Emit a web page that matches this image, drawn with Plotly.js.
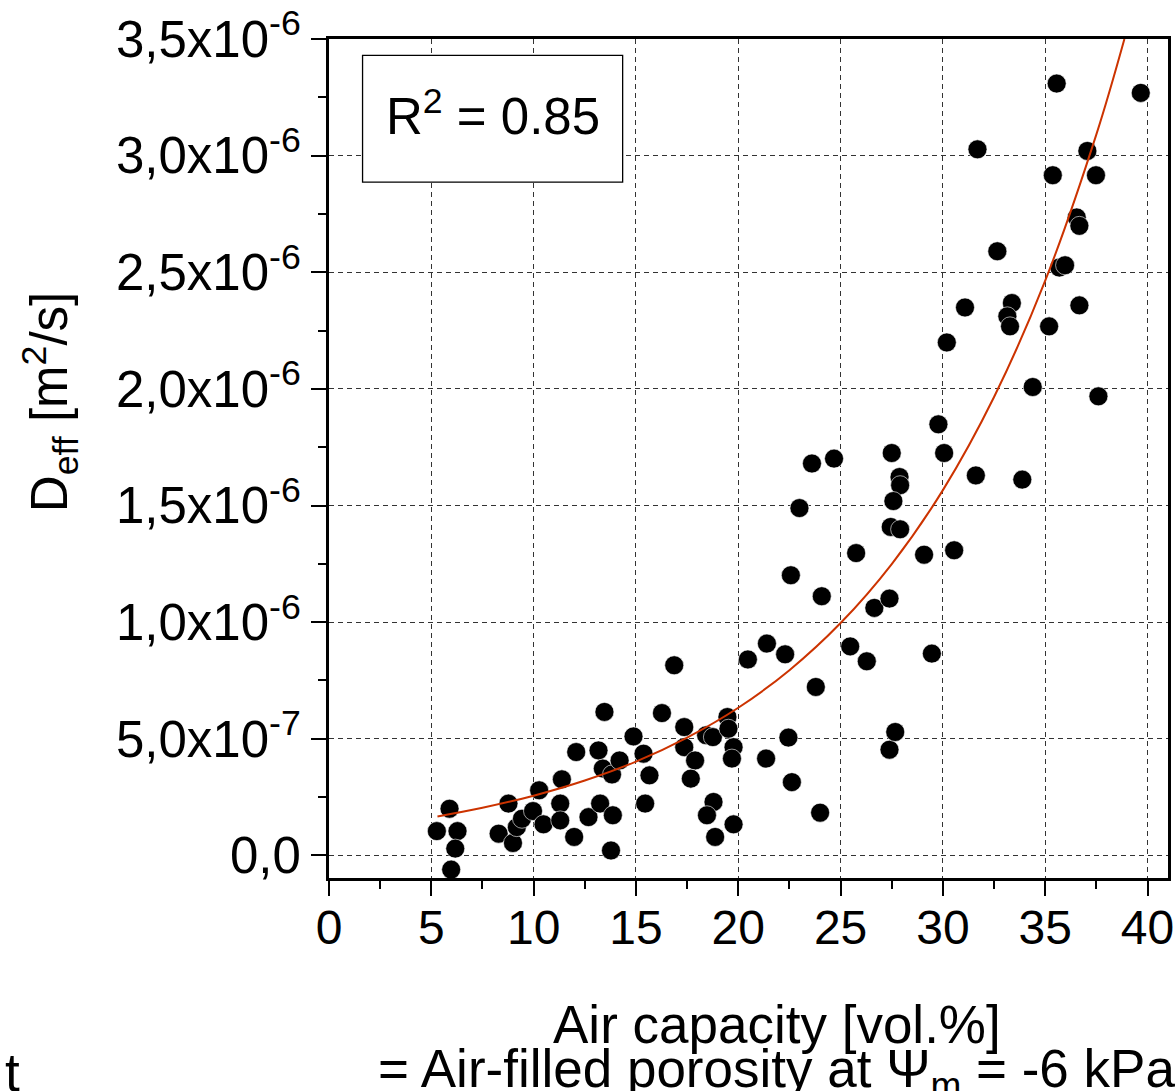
<!DOCTYPE html>
<html>
<head>
<meta charset="utf-8">
<script src="https://cdn.plot.ly/plotly-3.0.1.min.js"></script>
<style>
  html, body { margin: 0; padding: 0; background: #ffffff; }
  #chart { width: 1176px; height: 1091px; }
</style>
</head>
<body>
<div id="chart"></div>
<script>
// Measured points: air capacity [vol.%] vs D_eff [m^2/s]
const airCapacity = [
  5.27, 5.89, 6.28, 6.17, 5.97,
  8.29, 8.77, 8.99, 9.18, 9.43, 9.97, 10.48, 10.27,
  11.30, 11.30, 11.38, 11.98, 12.08, 12.68,
  13.17, 13.25, 13.38, 13.46, 13.83, 13.87, 13.78, 14.20,
  14.88, 15.37, 15.66, 15.45,
  16.27, 16.87,
  17.36, 17.36, 17.89, 17.68,
  18.43, 18.76, 19.47, 19.52, 19.77, 19.69,
  18.79, 18.47, 18.87, 19.77,
  20.47, 21.40, 22.29, 21.36, 22.45, 22.62, 24.00,
  23.79, 22.99, 22.57, 24.08, 23.60, 24.68,
  25.47, 26.28, 25.76, 26.65, 27.39,
  27.39, 27.67,
  27.50, 27.88, 27.91, 27.58, 27.45, 27.91,
  29.08, 29.46, 30.55, 30.06, 29.78, 30.19, 31.08, 31.69, 31.61,
  32.66, 33.37, 33.15, 33.28, 33.88, 34.39,
  35.19, 35.37, 35.56, 35.69, 35.97, 36.54, 36.67, 36.67, 37.06, 37.48, 37.60, 39.67
];
const deff = [
  0.104e-6, 0.200e-6, 0.104e-6, 0.029e-6, -0.061e-6,
  0.093e-6, 0.222e-6, 0.053e-6, 0.121e-6, 0.157e-6, 0.190e-6, 0.133e-6, 0.279e-6,
  0.222e-6, 0.150e-6, 0.326e-6, 0.079e-6, 0.443e-6, 0.164e-6,
  0.450e-6, 0.222e-6, 0.372e-6, 0.615e-6, 0.347e-6, 0.172e-6, 0.021e-6, 0.407e-6,
  0.510e-6, 0.436e-6, 0.343e-6, 0.222e-6,
  0.610e-6, 0.815e-6,
  0.550e-6, 0.464e-6, 0.407e-6, 0.329e-6,
  0.515e-6, 0.507e-6, 0.593e-6, 0.543e-6, 0.464e-6, 0.415e-6,
  0.229e-6, 0.172e-6, 0.079e-6, 0.133e-6,
  0.840e-6, 0.908e-6, 0.862e-6, 0.415e-6, 0.505e-6, 0.314e-6, 0.183e-6,
  0.722e-6, 1.489e-6, 1.201e-6, 1.111e-6, 1.680e-6, 1.701e-6,
  0.896e-6, 0.832e-6, 1.296e-6, 1.061e-6, 1.101e-6,
  0.453e-6, 0.529e-6,
  1.725e-6, 1.622e-6, 1.587e-6, 1.519e-6, 1.408e-6, 1.398e-6,
  1.289e-6, 0.865e-6, 1.308e-6, 1.725e-6, 1.848e-6, 2.199e-6, 2.349e-6, 3.027e-6, 1.629e-6,
  2.590e-6, 2.368e-6, 2.311e-6, 2.268e-6, 1.611e-6, 2.008e-6,
  2.268e-6, 2.916e-6, 3.309e-6, 2.520e-6, 2.530e-6, 2.735e-6, 2.699e-6, 2.358e-6, 3.020e-6, 2.916e-6, 1.968e-6, 3.269e-6
];

// Exponential fit line
const fitX = [5.3, 7.5, 10, 12.5, 15, 17.5, 20, 22.5, 25, 27.5, 30, 32.5, 35, 37.5, 38.87];
const fitY = [0.167e-6, 0.204e-6, 0.256e-6, 0.321e-6, 0.402e-6, 0.505e-6, 0.633e-6, 0.794e-6,
              0.996e-6, 1.249e-6, 1.566e-6, 1.965e-6, 2.464e-6, 3.091e-6, 3.5e-6];

// Axis ticks
const xTickVals = [0, 5, 10, 15, 20, 25, 30, 35, 40];
const xTickText = ['0', '5', '10', '15', '20', '25', '30', '35', '40'];
const yTickVals = [0, 0.5e-6, 1.0e-6, 1.5e-6, 2.0e-6, 2.5e-6, 3.0e-6, 3.5e-6];
const yTickText = ['0,0', '5,0x10<sup>-7</sup>', '1,0x10<sup>-6</sup>', '1,5x10<sup>-6</sup>',
                   '2,0x10<sup>-6</sup>', '2,5x10<sup>-6</sup>', '3,0x10<sup>-6</sup>', '3,5x10<sup>-6</sup>'];

const fitLabel = 'R<sup>2</sup> = 0.85';
const xTitle1 = 'Air capacity [vol.%]';
const xTitle2 = '= Air-filled porosity at Ψ<sub>m</sub> = -6 kPa';
const yTitle = 'D<sub>eff</sub> [m<sup>2</sup>/s]';

const FONT = 'Liberation Sans, Arial, Helvetica, sans-serif';

const traces = [
  {
    x: airCapacity, y: deff, type: 'scatter', mode: 'markers',
    marker: { color: '#000000', size: 19, line: { width: 0.6, color: '#ffffff' } },
    hoverinfo: 'skip', showlegend: false
  },
  {
    x: fitX, y: fitY, type: 'scatter', mode: 'lines',
    line: { color: '#CC3300', width: 2, shape: 'spline' },
    hoverinfo: 'skip', showlegend: false
  }
];

const axisCommon = {
  showline: true, linecolor: '#000000', linewidth: 3, mirror: true,
  ticks: 'outside', ticklen: 15, tickwidth: 2, tickcolor: '#000000',
  showgrid: true, gridcolor: '#333333', gridwidth: 1, griddash: '5px,4px',
  zeroline: false
};

const layout = {
  width: 1176, height: 1091,
  margin: { l: 329, r: 8, t: 39, b: 213, pad: 0 },
  paper_bgcolor: '#ffffff', plot_bgcolor: '#ffffff',
  font: { family: FONT, color: '#000000' },
  showlegend: false,
  xaxis: Object.assign({}, axisCommon, {
    range: [0, 41], tickmode: 'array', tickvals: xTickVals, ticktext: xTickText,
    tickfont: { family: FONT, size: 48, color: '#000000' },
    ticklabelstandoff: -10,
    minor: { tickmode: 'linear', tick0: 0, dtick: 2.5, ticks: 'outside', ticklen: 8, tickwidth: 2, tickcolor: '#000000', showgrid: false }
  }),
  yaxis: Object.assign({}, axisCommon, {
    range: [-0.097e-6, 3.5e-6], tickmode: 'array', tickvals: yTickVals, ticktext: yTickText,
    tickfont: { family: FONT, size: 51, color: '#000000' },
    minor: { tickmode: 'linear', tick0: 0, dtick: 0.25e-6, ticks: 'outside', ticklen: 8, tickwidth: 2, tickcolor: '#000000', showgrid: false }
  }),
  shapes: [
    { type: 'rect', xref: 'paper', yref: 'paper', x0: 0.040, x1: 0.350, y0: 0.8295, y1: 0.9806,
      line: { color: '#000000', width: 1.3 }, fillcolor: '#ffffff', layer: 'above' }
  ],
  annotations: [
    { xref: 'paper', yref: 'paper', x: 0.196, y: 0.912, xanchor: 'center', yanchor: 'middle',
      text: fitLabel, showarrow: false, font: { family: FONT, size: 51, color: '#000000' } },
    { xref: 'paper', yref: 'paper', x: (777 - 329) / 839, y: -0.1745, xanchor: 'center', yanchor: 'middle',
      text: xTitle1, showarrow: false, font: { family: FONT, size: 53, color: '#000000' } },
    { xref: 'paper', yref: 'paper', x: (776 - 329) / 839, y: -0.2315, xanchor: 'center', yanchor: 'middle',
      text: xTitle2, showarrow: false, font: { family: FONT, size: 53, color: '#000000' } },
    { xref: 'paper', yref: 'paper', x: (50 - 329) / 839, y: (877.7 - 402) / 838.7, xanchor: 'center', yanchor: 'middle',
      text: yTitle, textangle: -90, showarrow: false, font: { family: FONT, size: 51, color: '#000000' } },
    { xref: 'paper', yref: 'paper', x: (12 - 329) / 839, y: -0.2315, xanchor: 'center', yanchor: 'middle',
      text: 't', showarrow: false, font: { family: FONT, size: 53, color: '#000000' } }
  ]
};

Plotly.newPlot('chart', traces, layout, { staticPlot: true, displayModeBar: false });
</script>
</body>
</html>
